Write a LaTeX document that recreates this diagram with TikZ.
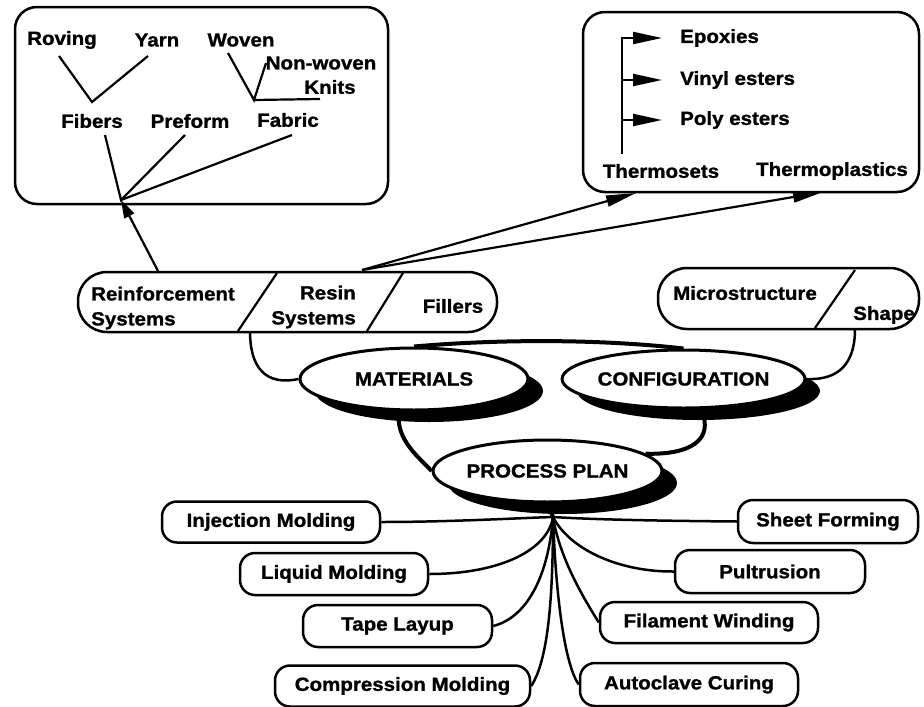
\documentclass[tikz,border=0pt]{standalone}
\usepackage{fontspec}
\setmainfont{Liberation Sans}[FakeStretch=1.08, BoldFeatures={FakeBold=1.2}]
\usetikzlibrary{shapes.geometric,shadows,arrows.meta}
\pgfdeclarelayer{bg}
\pgfsetlayers{bg,main}
\begin{document}
\begin{tikzpicture}[x=1pt,y=-1pt,
  lbl/.style={font=\fontsize{19}{25}\selectfont\bfseries, inner sep=0pt},
  bigbox/.style={draw, line width=2.5pt, rounded corners=22pt, fill=white},
  pill/.style={draw, line width=2.5pt, rounded corners=29pt, fill=white},
  pbox/.style={draw, line width=2.5pt, rounded corners=15pt, fill=white, inner sep=0pt, font=\fontsize{19}{21}\selectfont\bfseries},
  ell/.style={ellipse, draw, line width=3pt, fill=white, inner sep=0pt, font=\fontsize{19}{21}\selectfont\bfseries,
    drop shadow={shadow xshift=15pt, shadow yshift=-12pt, fill=black, opacity=1}},
  conn/.style={line width=2.5pt},
  thick conn/.style={line width=4pt},
  treeline/.style={line width=2.2pt},
  arrA/.style={-{Triangle[length=18pt,width=11pt]}, line width=2.2pt},
  arrB/.style={-{Triangle[length=30pt,width=11pt]}, line width=2.2pt},
  arrC/.style={-{Triangle[length=29pt,width=12pt]}, line width=2.2pt}
]
\useasboundingbox (0,0) rectangle (924,707);

% ---------- top-left box ----------
\node[bigbox, minimum width=373pt, minimum height=197pt] (fbox) at (201.5,105.5) {};
\node[lbl] (rov) at (62,40) {Roving};
\node[lbl] (yarn) at (157,40) {Yarn};
\node[lbl] (wov) at (241,40) {Woven};
\node[lbl] (nonw) at (321,63) {Non-woven};
\node[lbl] (knits) at (330,87) {Knits};
\node[lbl] (fib) at (92,121) {Fibers};
\node[lbl] (pref) at (190,121) {Preform};
\node[lbl] (fab) at (288,120) {Fabric};
\coordinate (rovE) at (59,56);
\coordinate (yarnE) at (148,56);
\coordinate (fibJ) at (92,102);
\coordinate (wovE) at (228,53);
\coordinate (nonwE) at (266,63);
\coordinate (knitsE) at (320,99);
\coordinate (fabJ) at (254,100);
\coordinate (apex) at (121,200);
\coordinate (fibE) at (105,135);
\coordinate (prefE) at (185,135);
\coordinate (fabE) at (292,135);
\draw[treeline] (rovE) -- (fibJ) -- (yarnE);
\draw[treeline] (wovE) -- (fabJ) -- (nonwE);
\draw[treeline] (fabJ) -- (knitsE);
\draw[treeline] (fibE) -- (apex) -- (prefE);
\draw[treeline] (apex) -- (fabE);

% ---------- top-right box ----------
\node[bigbox, minimum width=336pt, minimum height=180pt] (rbox) at (751,102) {};
\node[lbl, anchor=west] (epox) at (680,38) {Epoxies};
\node[lbl, anchor=west] (vinyl) at (680,80) {Vinyl esters};
\node[lbl, anchor=west] (poly) at (680,120) {Poly esters};
\node[lbl] (tset) at (661,171) {Thermosets};
\node[lbl] (tplast) at (832,171) {Thermoplastics};
\coordinate (tsTop) at (622,154);
\draw[arrC] (tsTop) |- ([xshift=-18pt]epox.west);
\draw[arrC] (tsTop |- vinyl.west) -- ([xshift=-18pt]vinyl.west);
\draw[arrC] (tsTop |- poly.west) -- ([xshift=-18pt]poly.west);

% ---------- materials row ----------
\node[pill, minimum width=419pt, minimum height=60pt] (mrow) at (287.5,302) {};
\draw[line width=2.2pt] (277,273) -- (238,331);
\draw[line width=2.2pt] (403,273) -- (367,331);
\node[lbl, align=left, anchor=west] (rein) at (91,308) {Reinforcement\\Systems};
\node[lbl, align=right, anchor=east] (resin) at (356,307) {Resin\\Systems};
\node[lbl] (fill) at (453,306) {Fillers};

% ---------- configuration row ----------
\node[pill, minimum width=261pt, minimum height=61pt] (crow) at (788.5,298.5) {};
\draw[line width=2.2pt] (855,270) -- (815,328);
\node[lbl] (micro) at (745,293) {Microstructure};
\node[lbl] (shape) at (884,315) {Shape};

% ---------- arrows ----------
\coordinate (reinTop) at (158,271);
\coordinate (resTop) at (362,270);
\coordinate (tsIn) at (636,193);
\coordinate (tpIn) at (823,192);
\draw[arrA] (reinTop) -- (apex);
\draw[arrB] (resTop) -- (tsIn);
\draw[arrB] (resTop) -- (tpIn);

% ---------- ellipses ----------
\node[ell, minimum width=228pt, minimum height=62pt] (mat) at (414,379) {MATERIALS};
\node[ell, minimum width=227pt, minimum height=58pt] (conf) at (683.5,379) {CONFIGURATION};
\node[ell, minimum width=225pt, minimum height=62pt] (pp) at (547.5,471) {PROCESS PLAN};

% ---------- process boxes ----------
\node[pbox, minimum width=218pt, minimum height=41pt] (inj) at (271,522) {Injection Molding};
\node[pbox, minimum width=188pt, minimum height=42pt] (liq) at (334,574) {Liquid Molding};
\node[pbox, minimum width=189pt, minimum height=42pt] (tape) at (397.5,626) {Tape Layup};
\node[pbox, minimum width=255pt, minimum height=41pt] (comp) at (402.5,686) {Compression Molding};
\node[pbox, minimum width=180pt, minimum height=43pt] (sheet) at (828,521.5) {Sheet Forming};
\node[pbox, minimum width=190pt, minimum height=43pt] (pult) at (770,571.5) {Pultrusion};
\node[pbox, minimum width=218pt, minimum height=41pt] (fil) at (709,622.5) {Filament Winding};
\node[pbox, minimum width=218pt, minimum height=43pt] (auto) at (689,684.5) {Autoclave Curing};

\coordinate (hub) at (553,517);
\coordinate (mrowB) at (250,331);
\coordinate (crowB) at (855,329);

\begin{pgfonlayer}{bg}
  \draw[conn] (mrowB) .. controls (250,378) and (275,384) .. (mat.west);
  \draw[conn] (crowB) .. controls (855,372) and (830,380) .. (conf.east);
  \draw[thick conn] (mat.north) .. controls (500,339) and (600,339) .. (conf.north);
  \draw[thick conn] (mat.245) .. controls (395,440) and (420,458) .. (pp.west);
  \draw[thick conn] (conf.300) .. controls (715,440) and (690,455) .. (pp.10);
  \draw[thick conn] (pp.south) -- (hub);
  \draw[conn] (hub) .. controls (520,518) and (450,522) .. (inj.east);
  \draw[conn] (hub) .. controls (548,550) and (500,574) .. (liq.east);
  \draw[conn] (hub) .. controls (548,580) and (525,618) .. (tape.east);
  \draw[conn] (hub) .. controls (553,600) and (548,660) .. (comp.east);
  \draw[conn] (hub) .. controls (600,520) and (680,521) .. (sheet.west);
  \draw[conn] (hub) .. controls (570,550) and (620,572) .. (pult.west);
  \draw[conn] (hub) .. controls (560,560) and (585,600) .. (fil.west);
  \draw[conn] (hub) .. controls (556,600) and (565,665) .. (auto.west);
\end{pgfonlayer}
\end{tikzpicture}
\end{document}
